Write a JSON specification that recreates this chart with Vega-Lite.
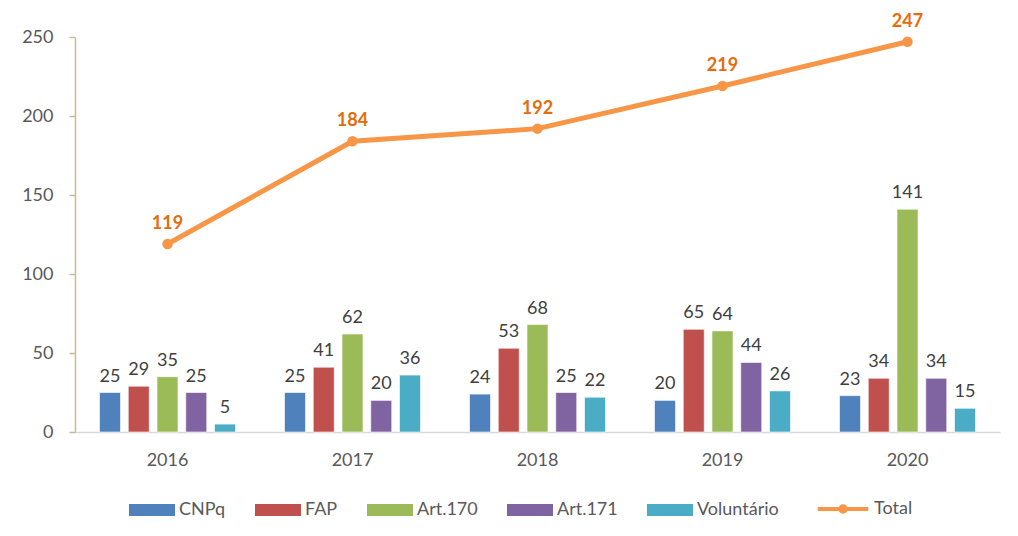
{
  "$schema": "https://vega.github.io/schema/vega-lite/v6.json",
  "width": 925,
  "height": 395,
  "autosize": "none",
  "padding": {"left": 75, "top": 37, "right": 18, "bottom": 104},
  "background": "white",
  "data": {
    "values": [
      {"year": "2016", "series": "CNPq", "value": 25},
      {"year": "2016", "series": "FAP", "value": 29},
      {"year": "2016", "series": "Art.170", "value": 35},
      {"year": "2016", "series": "Art.171", "value": 25},
      {"year": "2016", "series": "Voluntário", "value": 5},
      {"year": "2016", "series": "Total", "value": 119},
      {"year": "2017", "series": "CNPq", "value": 25},
      {"year": "2017", "series": "FAP", "value": 41},
      {"year": "2017", "series": "Art.170", "value": 62},
      {"year": "2017", "series": "Art.171", "value": 20},
      {"year": "2017", "series": "Voluntário", "value": 36},
      {"year": "2017", "series": "Total", "value": 184},
      {"year": "2018", "series": "CNPq", "value": 24},
      {"year": "2018", "series": "FAP", "value": 53},
      {"year": "2018", "series": "Art.170", "value": 68},
      {"year": "2018", "series": "Art.171", "value": 25},
      {"year": "2018", "series": "Voluntário", "value": 22},
      {"year": "2018", "series": "Total", "value": 192},
      {"year": "2019", "series": "CNPq", "value": 20},
      {"year": "2019", "series": "FAP", "value": 65},
      {"year": "2019", "series": "Art.170", "value": 64},
      {"year": "2019", "series": "Art.171", "value": 44},
      {"year": "2019", "series": "Voluntário", "value": 26},
      {"year": "2019", "series": "Total", "value": 219},
      {"year": "2020", "series": "CNPq", "value": 23},
      {"year": "2020", "series": "FAP", "value": 34},
      {"year": "2020", "series": "Art.170", "value": 141},
      {"year": "2020", "series": "Art.171", "value": 34},
      {"year": "2020", "series": "Voluntário", "value": 15},
      {"year": "2020", "series": "Total", "value": 247}
    ]
  },
  "encoding": {
    "x": {
      "field": "year",
      "type": "nominal",
      "scale": {"paddingInner": 0.265, "paddingOuter": 0.1325},
      "axis": {
        "title": null,
        "labelAngle": 0,
        "labelFontSize": 18,
        "labelColor": "#595959",
        "labelPadding": 19,
        "ticks": false,
        "domainColor": "#d9d9d9",
        "domainWidth": 1.5
      }
    },
    "y": {
      "field": "value",
      "type": "quantitative",
      "scale": {"domain": [0, 250], "nice": false},
      "axis": {
        "title": null,
        "values": [0, 50, 100, 150, 200, 250],
        "grid": false,
        "labelFontSize": 18,
        "labelColor": "#595959",
        "labelPadding": 16,
        "tickSize": 6,
        "tickColor": "#c4bd97",
        "domainColor": "#c4bd97",
        "domainWidth": 1.5,
        "tickWidth": 1.5
      }
    }
  },
  "layer": [
    {
      "transform": [{"filter": "datum.series !== 'Total'"}],
      "mark": {"type": "bar", "stroke": "white", "strokeWidth": 1, "strokeOpacity": 0.6},
      "encoding": {
        "xOffset": {
          "field": "series",
          "type": "nominal",
          "sort": ["CNPq", "FAP", "Art.170", "Art.171", "Voluntário"],
          "scale": {"paddingInner": 0.27}
        },
        "color": {
          "field": "series",
          "type": "nominal",
          "sort": ["CNPq", "FAP", "Art.170", "Art.171", "Voluntário"],
          "scale": {
            "domain": ["CNPq", "FAP", "Art.170", "Art.171", "Voluntário"],
            "range": ["#4f81bd", "#c0504d", "#9bbb59", "#8064a2", "#4bacc6"]
          },
          "legend": {
            "title": null,
            "orient": "none",
            "legendX": 54,
            "legendY": 450,
            "direction": "horizontal",
            "symbolType": "M-1,-0.26H1V0.26H-1Z",
            "symbolSize": 2116,
            "symbolStrokeWidth": 0,
            "labelFontSize": 18,
            "labelColor": "#595959",
            "labelOffset": 4,
            "columnPadding": 29,
            "padding": 0
          }
        }
      }
    },
    {
      "transform": [{"filter": "datum.series !== 'Total'"}],
      "mark": {"type": "text", "baseline": "alphabetic", "dy": -11, "fontSize": 18, "color": "#404040"},
      "encoding": {
        "xOffset": {
          "field": "series",
          "type": "nominal",
          "sort": ["CNPq", "FAP", "Art.170", "Art.171", "Voluntário"],
          "scale": {"paddingInner": 0.27}
        },
        "text": {"field": "value", "type": "quantitative"}
      }
    },
    {
      "transform": [{"filter": "datum.series === 'Total'"}],
      "mark": {"type": "line", "strokeWidth": 5, "strokeCap": "round"},
      "encoding": {
        "stroke": {
          "field": "series",
          "type": "nominal",
          "scale": {"domain": ["Total"], "range": ["#f79646"]},
          "legend": {
            "title": null,
            "orient": "none",
            "legendX": 743,
            "legendY": 447,
            "direction": "horizontal",
            "symbolType": "M-1.1,0H1.1M-0.12,0A0.12,0.12 0 1,0 0.12,0A0.12,0.12 0 1,0 -0.12,0",
            "symbolSize": 2116,
            "symbolStrokeWidth": 4,
            "symbolFillColor": "#f79646",
            "labelFontSize": 18,
            "labelColor": "#595959",
            "labelOffset": 6,
            "padding": 0
          }
        }
      }
    },
    {
      "transform": [{"filter": "datum.series === 'Total'"}],
      "mark": {"type": "point", "filled": true, "size": 110, "color": "#f79646", "opacity": 1}
    },
    {
      "transform": [{"filter": "datum.series === 'Total'"}],
      "mark": {"type": "text", "baseline": "alphabetic", "dy": -15, "fontSize": 18, "fontWeight": "bold", "color": "#e46c0a"},
      "encoding": {"text": {"field": "value", "type": "quantitative"}}
    }
  ],
  "config": {
    "font": "Lato",
    "view": {"stroke": null}
  }
}
